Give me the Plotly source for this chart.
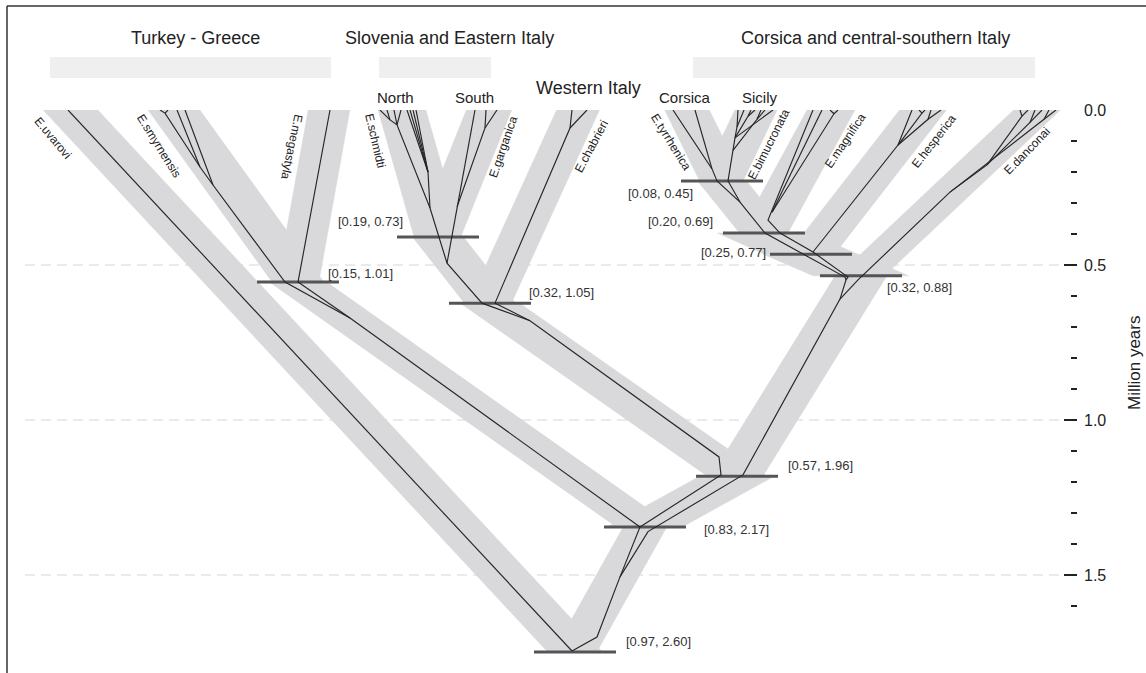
import math
import plotly.graph_objects as go

# ---------------- data ----------------
tip_names = ["E.uvarovi", "E.smyrnensis", "E.megastyla", "E.schmidti", "E.garganica",
             "E.chabrieri", "E.tyrrhenica", "E.bimucronata", "E.magnifica",
             "E.hesperica", "E.danconai"]
tip_x = [70.5, 174, 329, 402, 489, 578, 687, 756, 831, 923, 1037]
tip_age = [0.0] * 11

node_names = ["TG", "SG", "WI", "TB", "TBM", "TBMH", "CS", "IT", "N083", "ROOT"]
node_x = [298, 438, 490, 722, 764, 811, 861, 737, 645, 575]
node_age = [0.555, 0.410, 0.623, 0.229, 0.397, 0.465, 0.535, 1.181, 1.345, 1.748]
node_hpd = ["[0.15, 1.01]", "[0.19, 0.73]", "[0.32, 1.05]", "[0.08, 0.45]", "[0.20, 0.69]",
            "[0.25, 0.77]", "[0.32, 0.88]", "[0.57, 1.96]", "[0.83, 2.17]", "[0.97, 2.60]"]

# species-tree branches (child -> parent)
edge_child = ["E.uvarovi", "E.smyrnensis", "E.megastyla", "E.schmidti", "E.garganica",
              "E.chabrieri", "E.tyrrhenica", "E.bimucronata", "E.magnifica", "E.hesperica",
              "E.danconai", "SG", "TB", "TBM", "TBMH", "WI", "CS", "TG", "IT", "N083"]
edge_parent = ["ROOT", "TG", "TG", "SG", "SG", "WI", "TB", "TB", "TBM", "TBMH", "CS",
               "WI", "TBM", "TBMH", "CS", "IT", "IT", "N083", "N083", "ROOT"]

# gene-tree lineages (x position, age in Myr)
gene_paths = [
    [(68, 0), (572, 1.745)],
    [(160, 0), (165, 0.010), (200, 0.184)],
    [(168, 0), (165, 0.010)],
    [(177, 0), (200, 0.184), (213, 0.242)],
    [(185, 0), (213, 0.242), (285, 0.555), (350, 0.671), (640, 1.345), (620, 1.506),
     (597, 1.700), (572, 1.745)],
    [(330, 0), (298, 0.555), (350, 0.671)],
    [(380, 0), (390, 0.032), (397, 0.048), (430, 0.316), (447, 0.494), (482, 0.623),
     (530, 0.680), (719, 1.119), (721, 1.177), (640, 1.345)],
    [(387, 0), (390, 0.032)],
    [(394, 0), (397, 0.048)],
    [(401, 0), (397, 0.048)],
    [(407, 0), (428, 0.200), (430, 0.316)],
    [(410, 0), (428, 0.200)],
    [(413, 0), (428, 0.200)],
    [(416, 0), (428, 0.200)],
    [(475, 0), (457, 0.313), (447, 0.494)],
    [(486, 0), (485, 0.058), (457, 0.313)],
    [(497, 0), (485, 0.058)],
    [(572, 0), (570, 0.058), (495, 0.623), (530, 0.680)],
    [(587, 0), (570, 0.058)],
    [(673, 0), (712, 0.190), (717, 0.229), (740, 0.297), (765, 0.397), (803, 0.465),
     (845, 0.539), (846, 0.548), (840, 0.610), (743, 1.177), (648, 1.360), (620, 1.506)],
    [(695, 0), (712, 0.190)],
    [(738, 0), (737, 0.055), (735, 0.090), (733, 0.130), (728, 0.229), (740, 0.297)],
    [(744, 0), (737, 0.055)],
    [(751, 0), (748, 0.020), (735, 0.090)],
    [(755, 0), (748, 0.020)],
    [(761, 0), (757, 0.030), (733, 0.130)],
    [(765, 0), (757, 0.030)],
    [(773, 0), (735, 0.090)],
    [(813, 0), (768, 0.355), (780, 0.397), (813, 0.458), (848, 0.539), (846, 0.548)],
    [(822, 0), (772, 0.330)],
    [(830, 0), (834, 0.012), (772, 0.330)],
    [(838, 0), (834, 0.012)],
    [(912, 0), (898, 0.113), (813, 0.458)],
    [(919, 0), (922, 0.010), (898, 0.113)],
    [(925, 0), (922, 0.010)],
    [(931, 0), (928, 0.030), (898, 0.113)],
    [(941, 0), (928, 0.030)],
    [(1020, 0), (1022, 0.020), (987, 0.177), (950, 0.265), (858, 0.548), (840, 0.610)],
    [(1028, 0), (1022, 0.020)],
    [(1035, 0), (1030, 0.040), (987, 0.177)],
    [(1042, 0), (1030, 0.040)],
    [(1049, 0), (1044, 0.030), (950, 0.265)],
    [(1056, 0), (1044, 0.030)],
]

major_ticks = [0.0, 0.5, 1.0, 1.5]
major_labels = ["0.0", "0.5", "1.0", "1.5"]
minor_ticks = [0.1, 0.2, 0.3, 0.4, 0.6, 0.7, 0.8, 0.9, 1.1, 1.2, 1.3, 1.4, 1.6]

region_names = ["Turkey - Greece", "Slovenia and Eastern Italy", "Corsica and central-southern Italy"]
sub_names = ["Western Italy", "North", "South", "Corsica", "Sicily"]

# ---------------- styles / layout positions ----------------
W, H = 1146, 673
ML, MR, MT, MB = 7, 69, 110, 0
X0, X1 = 7, 1077
Y_BOTTOM = 1.816
PW = W - ML - MR
PH = H - MT - MB
PX_PER_MYR = PH / Y_BOTTOM

def py(ypx):
    return (H - MB - ypx) / PH

def px(xpx):
    return (xpx - ML) / PW

# band thickness (perpendicular, px) per branch
edge_width = [40, 42, 41, 46, 42, 39, 40, 38, 42, 37, 32, 40, 38, 38, 38, 34, 44, 33, 36, 38]
band_color = "#d9d9db"
bar_half = 41
FONT = "Liberation Sans, Arial, sans-serif"

pos = {}
for n, x, a in zip(tip_names, tip_x, tip_age):
    pos[n] = (x, a)
for n, x, a in zip(node_names, node_x, node_age):
    pos[n] = (x, a)

fig = go.Figure()

# gray species-tree bands (cut horizontally at both ends)
for c, p, w in zip(edge_child, edge_parent, edge_width):
    (xc, yc), (xp, yp) = pos[c], pos[p]
    dy = (yp - yc) * PX_PER_MYR
    dx = xp - xc
    h = w / 2 * math.hypot(dx, dy) / dy
    fig.add_trace(go.Scatter(
        x=[xc - h, xc + h, xp + h, xp - h, xc - h],
        y=[yc, yc, yp, yp, yc],
        mode="lines", fill="toself", fillcolor=band_color,
        line=dict(color=band_color, width=0.5),
        hoverinfo="skip", showlegend=False))

# node bars
bx, by = [], []
for x, a in zip(node_x, node_age):
    bx += [x - bar_half, x + bar_half, None]
    by += [a, a, None]
fig.add_trace(go.Scatter(x=bx, y=by, mode="lines",
                         line=dict(color="#555555", width=3),
                         hoverinfo="skip", showlegend=False))

# gene-tree lines
gx, gy = [], []
for path in gene_paths:
    for (x, a) in path:
        gx.append(x)
        gy.append(a)
    gx.append(None)
    gy.append(None)
fig.add_trace(go.Scatter(x=gx, y=gy, mode="lines",
                         line=dict(color="#262626", width=1.15),
                         hoverinfo="skip", showlegend=False))

annotations = []
# species labels: (x, age, angle)
tip_label_pos = [(53, 0.090, 50), (159, 0.116, 58), (292, 0.119, 102), (375, 0.097, 77),
                 (503, 0.119, -71), (591, 0.119, -62), (671, 0.103, 58), (769, 0.110, -63),
                 (845, 0.100, -56), (934, 0.100, -52), (1027, 0.132, -46)]
for name, (x, a, ang) in zip(tip_names, tip_label_pos):
    annotations.append(dict(x=x, y=a, xref="x", yref="y", text=name, textangle=ang,
                            showarrow=False, xanchor="center", yanchor="middle",
                            font=dict(size=12, color="#222", family=FONT)))

# HPD labels
hpd_pos = [(326, 0.526, "left"), (405, 0.361, "right"), (527, 0.590, "left"),
           (695, 0.268, "right"), (715, 0.361, "right"), (768, 0.461, "right"),
           (885, 0.571, "left"), (786, 1.148, "left"), (702, 1.352, "left"),
           (624, 1.713, "left")]
for txt, (x, a, anc) in zip(node_hpd, hpd_pos):
    annotations.append(dict(x=x, y=a, xref="x", yref="y", text=txt, showarrow=False,
                            xanchor=anc, yanchor="middle",
                            font=dict(size=13, color="#333", family=FONT)))

# region headers
region_pos = [(195, 38), (449, 38), (875, 38)]
for txt, (x, y) in zip(region_names, region_pos):
    annotations.append(dict(x=x, y=py(y), xref="x", yref="paper", text=txt, showarrow=False,
                            xanchor="center", yanchor="middle",
                            font=dict(size=18, color="#222", family=FONT)))
sub_pos = [(588, 88, 18), (395, 98, 15), (474, 98, 15), (685, 97, 15), (760, 97, 15)]
for txt, (x, y, s) in zip(sub_names, sub_pos):
    annotations.append(dict(x=x, y=py(y), xref="x", yref="paper", text=txt, showarrow=False,
                            xanchor="center", yanchor="middle",
                            font=dict(size=s, color="#222", family=FONT)))

annotations.append(dict(x=px(1134), y=py(363), xref="paper", yref="paper",
                        text="Million years", textangle=-90, showarrow=False,
                        xanchor="center", yanchor="middle",
                        font=dict(size=17, color="#222", family=FONT)))

shapes = []
# header bars
for (x0, x1) in [(50, 331), (379, 491), (693, 1035)]:
    shapes.append(dict(type="rect", xref="x", yref="paper", x0=x0, x1=x1,
                       y0=py(78), y1=py(57), fillcolor="#efefef", line=dict(width=0),
                       layer="below"))
# dashed grid
for t in [0.5, 1.0, 1.5]:
    shapes.append(dict(type="line", xref="x", yref="y", x0=25, x1=1064, y0=t, y1=t,
                       line=dict(color="#d6d6d6", width=1, dash="10px,6px"), layer="below"))
# frame
shapes.append(dict(type="line", xref="paper", yref="paper", x0=0, x1=px(W + 2),
                   y0=py(6), y1=py(6), line=dict(color="#333", width=1.5)))
shapes.append(dict(type="line", xref="paper", yref="paper", x0=0, x1=0,
                   y0=py(H + 2), y1=py(6), line=dict(color="#333", width=1.5)))

fig.update_layout(
    width=W, height=H,
    margin=dict(l=ML, r=MR, t=MT, b=MB, pad=0),
    paper_bgcolor="white", plot_bgcolor="white",
    showlegend=False,
    xaxis=dict(range=[X0, X1], visible=False, fixedrange=True),
    yaxis=dict(range=[Y_BOTTOM, 0], side="right", showgrid=False, zeroline=False,
               showline=False, tickvals=major_ticks, ticktext=major_labels,
               ticks="inside", ticklen=13, tickwidth=1.6, tickcolor="#222",
               ticklabelstandoff=6,
               tickfont=dict(size=16, color="#222", family=FONT),
               minor=dict(tickvals=minor_ticks, ticks="inside", ticklen=6,
                          tickwidth=1.6, tickcolor="#222", showgrid=False),
               fixedrange=True),
    annotations=annotations,
    shapes=shapes,
)

fig.write_html("out.html")
